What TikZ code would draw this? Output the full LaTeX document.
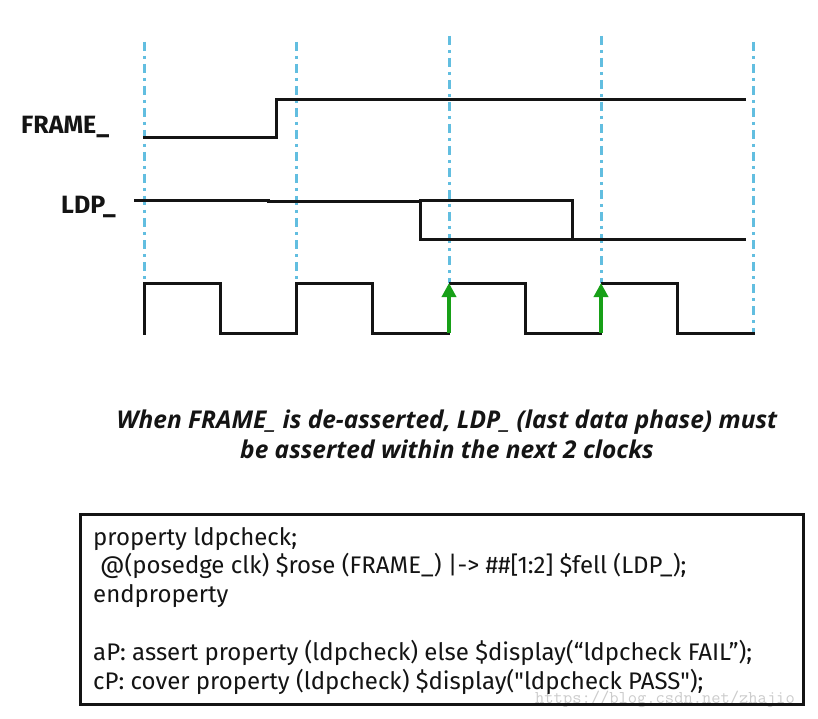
\documentclass[tikz,border=0pt]{standalone}
\usepackage{fontspec}
\setmainfont{Fira Sans}
\newfontfamily\capfont{Open Sans}
\usetikzlibrary{arrows.meta}
\definecolor{sigblack}{HTML}{141414}
\definecolor{clkblue}{HTML}{62BEE0}
\definecolor{edgegreen}{HTML}{17A017}
\tikzset{
  wave/.style={draw=sigblack, line width=3pt, line join=miter, line cap=rect},
  clkline/.style={draw=clkblue, line width=3pt, dash pattern=on 9pt off 5pt on 3pt off 5pt},
  edgearrow/.style={draw=edgegreen, line width=4.3pt, -{Triangle[width=14pt,length=14pt]}},
  siglabel/.style={font=\bfseries\fontsize{25}{30}\selectfont, text=sigblack, inner sep=0pt},
}
\begin{document}
\begin{tikzpicture}[x=1pt,y=-1pt]
\useasboundingbox[fill=white] (0,0) rectangle (818,719);

% clock reference lines
\coordinate (t0a) at (144.5,42);  \coordinate (t0b) at (144.5,283);
\coordinate (t1a) at (296.5,42);  \coordinate (t1b) at (296.5,283);
\coordinate (t2a) at (449,36);    \coordinate (t2b) at (449,283);
\coordinate (t3a) at (601,36);    \coordinate (t3b) at (601,283);
\coordinate (t4a) at (753,42);    \coordinate (t4b) at (753,333);
\draw[clkline] (t0a) -- (t0b);
\draw[clkline] (t1a) -- (t1b);
\draw[clkline] (t2a) -- (t2b);
\draw[clkline] (t3a) -- (t3b);
\draw[clkline] (t4a) -- (t4b);

% labels
\node[siglabel, anchor=west] (frame) at (21,127) {FRAME\_};
\node[siglabel, anchor=west] (ldp) at (61,207) {LDP\_};

% FRAME_
\draw[wave] (144.5,137.3) -- (276.7,137.3) -- (276.7,99.3) -- (744,99.3);

% LDP_
\draw[wave] (135,200.7) -- (268,200.7) -- (268,201.5) -- (420.7,201.5) -- (420.7,239.3) -- (744,239.3);
\draw[wave] (420.7,200.3) -- (572.3,200.3) -- (572.3,239.3);

% clock
\draw[wave] (144.5,333.3) -- (144.5,283.3) -- (220.3,283.3) -- (220.3,333.3)
  -- (296.5,333.3) -- (296.5,283.3) -- (372.3,283.3) -- (372.3,333.3) -- (448,333.3);
\draw[wave] (450,283.3) -- (525.3,283.3) -- (525.3,333.3) -- (600,333.3);
\draw[wave] (602,283.3) -- (677.3,283.3) -- (677.3,333.3) -- (753,333.3);
\coordinate (e1a) at (449,333.3); \coordinate (e1b) at (449,283);
\coordinate (e2a) at (601,333.3); \coordinate (e2b) at (601,283);
\draw[edgearrow] (e1a) -- (e1b);
\draw[edgearrow] (e2a) -- (e2b);

% caption
\node[align=center, font=\capfont\bfseries\itshape\fontsize{24.5}{30}\selectfont, text=sigblack] (cap) at (447,434)
  {When FRAME\_ is de-asserted, LDP\_ (last data phase) must\\be asserted within the next 2 clocks};

% watermark
\node[anchor=base west, inner sep=0pt, text=black!20, font=\ttfamily\fontsize{18}{18}\selectfont] (wm) at (535,703) {https://blog.csdn.net/zhajio};

% code box
\node[draw=sigblack, line width=2.7pt, minimum width=723pt, minimum height=190pt, anchor=north west, inner sep=0pt] (box) at (79,513) {};
\node[anchor=north west, align=left, inner sep=0pt, text=sigblack, font=\fontsize{24}{28.6}\selectfont] (code) at (93,527)
  {property ldpcheck;\\
   \hspace*{7pt}@(posedge clk) \$rose (FRAME\_) |-> \#\#[1:2] \$fell (LDP\_);\\
   endproperty\\
   \strut\\
   aP: assert property (ldpcheck) else \$display(“ldpcheck FAIL”);\\
   cP: cover property (ldpcheck) \$display(\textquotedbl ldpcheck PASS\textquotedbl);};
\end{tikzpicture}
\end{document}
